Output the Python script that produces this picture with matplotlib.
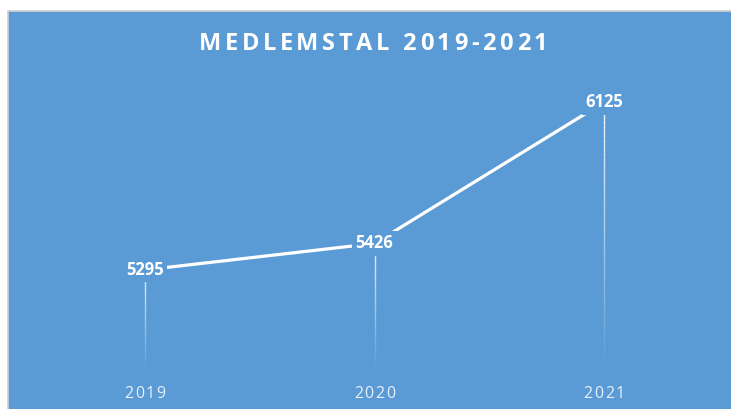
import matplotlib.pyplot as plt
import numpy as np
from matplotlib.patches import Rectangle
from matplotlib.collections import LineCollection

years = ["2019", "2020", "2021"]
members = [5295, 5426, 6125]
title = "MEDLEMSTAL 2019-2021"

blue = "#5B9BD5"
W, H = 731, 409


def spaced_text(fig, xc, yc, s, gap, **kw):
    # draw text char by char with extra tracking, centred at pixel (xc, yc from top)
    r = fig.canvas.get_renderer()
    widths = []
    for ch in s:
        t = fig.text(0, 0, ch, **kw)
        widths.append(t.get_window_extent(r).width if ch != " " else None)
        t.remove()
    sp = fig.text(0, 0, "a a", **kw)
    sp2 = fig.text(0, 0, "aa", **kw)
    space_w = sp.get_window_extent(r).width - sp2.get_window_extent(r).width
    sp.remove()
    sp2.remove()
    widths = [w if w is not None else space_w for w in widths]
    total = sum(widths) + gap * (len(s) - 1)
    xp = xc - total / 2
    for ch, w in zip(s, widths):
        fig.text(xp / W, 1 - yc / H, ch, ha="left", va="center", **kw)
        xp += w + gap


fig = plt.figure(figsize=(7.31, 4.09), dpi=100, facecolor="white")
# chart area frame
fig.patches.append(Rectangle((7.5 / W, -0.01), 1.0, (H - 11.5) / H + 0.01,
                             transform=fig.transFigure, facecolor=blue,
                             edgecolor="#D0D0D0", lw=1.2, zorder=-5))

ax = fig.add_axes([30 / W, 39 / H, 689 / W, 283 / H])
ax.set_zorder(2)
ax.set_facecolor("none")
ax.set_xlim(-0.5, 2.5)
ax.set_ylim(4800, 6200)
for s in ax.spines.values():
    s.set_visible(False)
ax.set_yticks([])
x = np.arange(len(years))
ax.set_xticks(x)
ax.set_xticklabels([])
ax.tick_params(axis="x", length=0)

# fading drop lines
for xi, v in zip(x, members):
    ys = np.linspace(v, 4800, 60)
    segs = [[(xi, ys[i]), (xi, ys[i + 1])] for i in range(len(ys) - 1)]
    alphas = np.linspace(0.95, 0.0, len(segs))
    cols = [(1, 1, 1, a) for a in alphas]
    ax.add_collection(LineCollection(segs, colors=cols, linewidths=1.0, zorder=1))

ax.plot(x, members, color="white", lw=2.3, solid_capstyle="butt", zorder=2)

for xi, v in zip(x, members):
    ax.text(xi, v, str(v), ha="center", va="center", color="white",
            fontsize=12, fontweight="bold", family="Open Sans", zorder=3,
            bbox=dict(facecolor=blue, edgecolor="none", pad=2.5))

# category labels with slight tracking
for xi, lab in zip(x, years):
    px = ax.transData.transform((xi, 4800))[0]
    spaced_text(fig, px, 394, lab, 1.5, color=(1, 1, 1, 0.85),
                fontsize=11.5, family="Open Sans")

spaced_text(fig, 373, 44, title, 3.6, color="white", fontsize=17,
            fontweight="bold", family="Open Sans")

fig.savefig("out.png", dpi=100, facecolor="white")
